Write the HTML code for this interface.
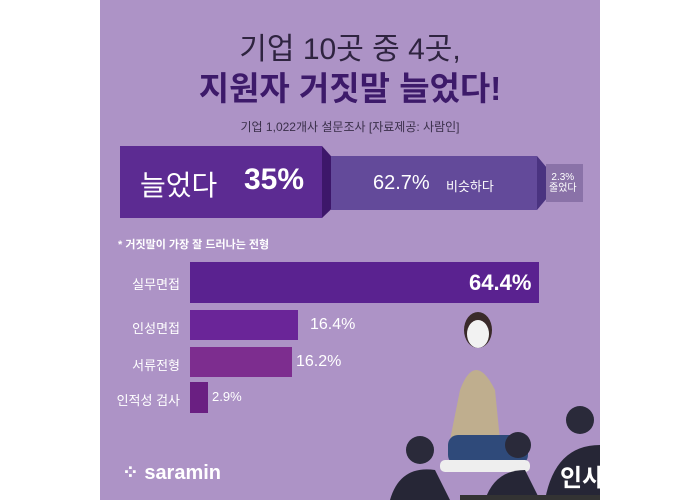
<!DOCTYPE html><html><head><meta charset="utf-8"><style>
body{margin:0;width:700px;height:500px;background:#fff;position:relative;overflow:hidden;font-family:"Liberation Sans","Noto Sans CJK KR",sans-serif}
.a{position:absolute}
.p{left:100px;top:0;width:500px;height:500px;background:#ad93c6;overflow:hidden}
.t{white-space:nowrap}
.l{position:absolute;right:520px;font-size:13px;color:#fff;white-space:nowrap}
</style></head><body>
<div class="a p"><svg class="a" style="left:280px;top:300px" width="220" height="200">
<path d="M80 90 Q95 50 115 90 L120 140 L70 140 Z" fill="#bfae8e"/>
<ellipse cx="98" cy="30" rx="14" ry="18" fill="#3a2a2a"/>
<ellipse cx="98" cy="34" rx="11" ry="14" fill="#f2f2f2"/>
<rect x="68" y="135" width="80" height="30" rx="10" fill="#2f4a7a"/>
<rect x="60" y="160" width="90" height="12" rx="5" fill="#eee"/>
<circle cx="40" cy="150" r="14" fill="#2a2a3a"/><path d="M10 200 Q20 165 55 170 L70 200Z" fill="#262636"/>
<circle cx="138" cy="145" r="13" fill="#2a2a3a"/><path d="M105 200 Q115 170 145 170 L160 200Z" fill="#262636"/>
<circle cx="200" cy="120" r="14" fill="#2a2a3a"/><path d="M165 200 Q175 145 220 145 L220 200Z" fill="#262636"/>
<rect x="80" y="195" width="140" height="5" fill="#333"/>
</svg></div>
<div class="a t" style="left:0;width:700px;text-align:center;top:24px;font-size:30px;color:#2f2440">기업 10곳 중 4곳,</div>
<div class="a t" style="left:0;width:700px;text-align:center;top:62px;font-size:33px;font-weight:bold;color:#3d1a6a">지원자 거짓말 늘었다!</div>
<div class="a t" style="left:0;width:700px;text-align:center;top:118px;font-size:12px;color:#3a2f4a">기업 1,022개사 설문조사 [자료제공: 사람인]</div>
<div class="a" style="left:120px;top:146px;width:202px;height:72px;background:#5c2b92"></div>
<div class="a" style="left:322px;top:146px;width:9px;height:72px;background:#3d176a;clip-path:polygon(0 0,100% 14%,100% 88%,0 100%)"></div>
<div class="a" style="left:331px;top:156px;width:206px;height:54px;background:#634a9a"></div>
<div class="a" style="left:537px;top:156px;width:9px;height:54px;background:#4a3380;clip-path:polygon(0 0,100% 20%,100% 80%,0 100%)"></div>
<div class="a" style="left:546px;top:164px;width:37px;height:38px;background:#8a72a8"></div>
<div class="a t" style="left:140px;top:164px;font-size:28px;color:#fff">늘었다</div>
<div class="a t" style="left:244px;top:163px;font-size:30px;font-weight:bold;color:#fff">35%</div>
<div class="a t" style="left:373px;top:172px;font-size:20px;color:#fff">62.7%</div>
<div class="a t" style="left:446px;top:176px;font-size:13px;color:#fff">비슷하다</div>
<div class="a t" style="left:549px;top:172px;font-size:10px;color:#fff;text-align:center;line-height:11px">2.3%<br>줄었다</div>
<div class="a t" style="left:118px;top:236px;font-size:11px;font-weight:bold;color:#fff">* 거짓말이 가장 잘 드러나는 전형</div>
<div class="a" style="left:190px;top:262px;width:349px;height:41px;background:#5a2290"></div>
<div class="a" style="left:190px;top:310px;width:108px;height:30px;background:#6a2598"></div>
<div class="a" style="left:190px;top:347px;width:102px;height:30px;background:#7d2d8f"></div>
<div class="a" style="left:190px;top:382px;width:18px;height:31px;background:#6a1f82"></div>
<div class="l" style="top:274px">실무면접</div>
<div class="l" style="top:318px">인성면접</div>
<div class="l" style="top:355px">서류전형</div>
<div class="l" style="top:390px">인적성 검사</div>
<div class="a t" style="left:469px;top:270px;font-size:22px;font-weight:bold;color:#fff">64.4%</div>
<div class="a t" style="left:310px;top:316px;font-size:16px;color:#fff">16.4%</div>
<div class="a t" style="left:296px;top:353px;font-size:16px;color:#fff">16.2%</div>
<div class="a t" style="left:212px;top:389px;font-size:13px;color:#fff">2.9%</div>
<div class="a t" style="left:122px;top:460px;font-size:20px;font-weight:bold;color:#fff">⁘ saramin</div>
<div class="a t" style="left:560px;top:458px;font-size:24px;font-weight:bold;color:#fff">인사이트</div>
</body></html>
